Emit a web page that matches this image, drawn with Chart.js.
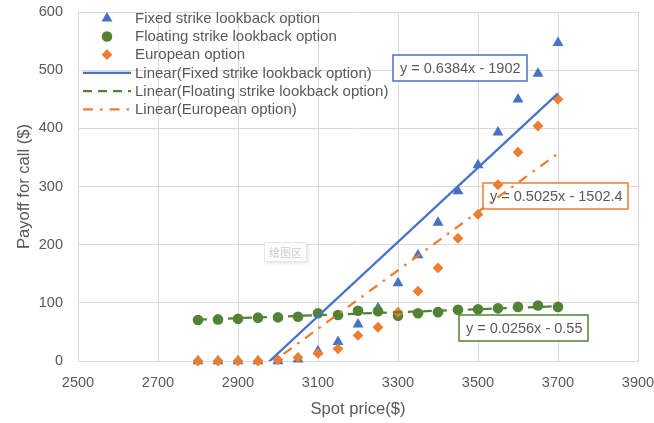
<!DOCTYPE html>
<html>
<head>
<meta charset="utf-8">
<script src="https://cdn.jsdelivr.net/npm/chart.js@4.4.1/dist/chart.umd.min.js"></script>
<style>
  html, body { margin: 0; padding: 0; background: #ffffff; }
  #wrap { width: 654px; height: 423px; }
</style>
</head>
<body>
<div id="wrap"><canvas id="chart" width="654" height="423"></canvas></div>
<script>
// Spot prices (x) and call payoffs (y) for each option type
const spotPrices = [2800, 2850, 2900, 2950, 3000, 3050, 3100, 3150, 3200, 3250,
                    3300, 3350, 3400, 3450, 3500, 3550, 3600, 3650, 3700];
const fixedStrike = [0, 0, 0, 0, 0, 3, 17, 33, 63, 91,
                     134, 182, 238, 292, 337, 393, 450, 494, 547];
const floatingStrike = [70.5, 71.5, 72.5, 74.5, 75, 76, 82, 79, 86.5, 85.5,
                        78, 82, 84, 88, 89, 90.5, 93, 95.5, 93];
const european = [0, 0, 0, 0, 2, 6, 13, 21, 44, 58,
                  84, 120, 160, 211, 252, 303, 359, 404, 450];

const seriesNames = ['Fixed strike lookback option',
                     'Floating strike lookback option',
                     'European option'];

// Linear trend lines: y = slope * x + intercept
const trendSlopes = [0.6384, 0.0256, 0.5025];
const trendIntercepts = [-1902, -0.55, -1502.4];

// Axis ranges and tick steps
const xAxisRange = [2500, 3900];
const xTickStep = 200;
const yAxisRange = [0, 600];
const yTickStep = 100;

const xTitle = 'Spot price($)';
const yTitle = 'Payoff for call ($)';
const plotAreaTag = '绘图区';

const BLUE = '#4472C4';
const GREEN = '#548235';
const ORANGE = '#ED7D31';
const TEXT = '#595959';
const GRID = '#D9D9D9';
const FONT = "'Liberation Sans', Arial, sans-serif";

const seriesColors = [BLUE, GREEN, ORANGE];
const seriesValues = [fixedStrike, floatingStrike, european];
const markerStyles = [
  { pointStyle: 'triangle', radius: 6.3 },
  { pointStyle: 'circle', radius: 5.3 },
  { pointStyle: 'rectRot', radius: 5.4 }
];
const trendDashes = [[], [9, 6], [10, 7, 2.5, 7]];

const toPoints = (values) => values.map((v, i) => ({ x: spotPrices[i], y: v }));
const trendPoints = (k) => {
  const xs = [spotPrices[0], spotPrices[spotPrices.length - 1]];
  return xs.map(x => ({ x, y: trendSlopes[k] * x + trendIntercepts[k] }));
};
const trendText = (k) => {
  const b = trendIntercepts[k];
  return 'y = ' + trendSlopes[k] + 'x ' + (b < 0 ? '- ' : '+ ') + Math.abs(b);
};

const datasets = [];
seriesValues.forEach((vals, k) => {
  datasets.push({
    type: 'scatter',
    label: seriesNames[k],
    data: toPoints(vals),
    pointStyle: markerStyles[k].pointStyle,
    pointRadius: markerStyles[k].radius,
    pointBackgroundColor: seriesColors[k],
    pointBorderColor: seriesColors[k],
    pointBorderWidth: 0,
    showLine: false,
    clip: false,
    order: 3 - k
  });
});
seriesValues.forEach((vals, k) => {
  datasets.push({
    type: 'line',
    label: 'Linear(' + seriesNames[k] + ')',
    data: trendPoints(k),
    borderColor: seriesColors[k],
    borderWidth: 2.25,
    borderDash: trendDashes[k],
    pointRadius: 0,
    fill: false,
    tension: 0,
    clip: 0,
    order: 0
  });
});

// Legend drawn over the upper-left of the plot area
const overlayLegend = {
  id: 'overlayLegend',
  afterDatasetsDraw(chart) {
    const ctx = chart.ctx;
    const x0 = 83, x1 = 131, markX = 107, textX = 135;
    const rowTop = 18.3, rowGap = 18.2;
    ctx.save();
    ctx.font = '15px ' + FONT;
    ctx.textBaseline = 'middle';
    ctx.textAlign = 'left';
    chart.data.datasets.forEach((ds, i) => {
      const y = rowTop + i * rowGap;
      if (ds.type === 'scatter') {
        ctx.fillStyle = ds.pointBackgroundColor;
        ctx.strokeStyle = ds.pointBorderColor;
        Chart.helpers.drawPoint(ctx, {
          pointStyle: ds.pointStyle, radius: ds.pointRadius, rotation: 0, borderWidth: 0
        }, markX, y);
      } else {
        ctx.strokeStyle = ds.borderColor;
        ctx.lineWidth = ds.borderWidth;
        ctx.setLineDash(ds.borderDash);
        ctx.beginPath();
        ctx.moveTo(x0, y);
        ctx.lineTo(x1, y);
        ctx.stroke();
        ctx.setLineDash([]);
      }
      ctx.fillStyle = TEXT;
      ctx.fillText(ds.label, textX, y + 0.5);
    });
    ctx.restore();
  }
};

// Boxed trend equations and the plot-area tag, drawn under the series
const equationBoxes = [
  { series: 0, left: 393, top: 55, width: 134, height: 26 },
  { series: 1, left: 459, top: 315, width: 129, height: 26 },
  { series: 2, left: 483, top: 183, width: 145, height: 26 }
];
const annotations = {
  id: 'annotations',
  beforeDatasetsDraw(chart) {
    const ctx = chart.ctx;
    ctx.save();
    // faint plot-area tag
    ctx.shadowColor = 'rgba(0,0,0,0.08)';
    ctx.shadowOffsetX = 1.5;
    ctx.shadowOffsetY = 1.5;
    ctx.shadowBlur = 2;
    ctx.fillStyle = '#ffffff';
    ctx.fillRect(264, 242, 43, 20);
    ctx.shadowColor = 'transparent';
    ctx.strokeStyle = '#E6E6E6';
    ctx.lineWidth = 1;
    ctx.strokeRect(264.5, 242.5, 42, 19);
    ctx.fillStyle = '#CBCBCB';
    ctx.font = "11px 'Noto Sans CJK SC', sans-serif";
    ctx.textBaseline = 'middle';
    ctx.textAlign = 'center';
    ctx.fillText(plotAreaTag, 285.5, 252.5);

    ctx.font = '14.5px ' + FONT;
    ctx.textAlign = 'left';
    equationBoxes.forEach(b => {
      ctx.fillStyle = '#ffffff';
      ctx.fillRect(b.left, b.top, b.width, b.height);
      ctx.strokeStyle = seriesColors[b.series];
      ctx.lineWidth = 1.5;
      ctx.strokeRect(b.left, b.top, b.width, b.height);
      ctx.fillStyle = TEXT;
      ctx.fillText(trendText(b.series), b.left + 7, b.top + b.height / 2 + 0.5);
    });
    ctx.restore();
  }
};

new Chart(document.getElementById('chart'), {
  type: 'scatter',
  data: { datasets },
  options: {
    responsive: false,
    animation: false,
    devicePixelRatio: 1,
    layout: { padding: { left: 0, right: 16, top: 12, bottom: 0 } },
    plugins: {
      legend: { display: false },
      tooltip: { enabled: false }
    },
    scales: {
      x: {
        type: 'linear',
        min: xAxisRange[0],
        max: xAxisRange[1],
        afterFit(scale) {
          scale.height = 62;
          scale.paddingLeft = 0;
          scale.paddingRight = 0;
        },
        ticks: {
          stepSize: xTickStep,
          color: TEXT,
          font: { family: FONT, size: 14.5 },
          padding: 13,
          maxRotation: 0,
          callback: (v) => String(v)
        },
        grid: { color: GRID, lineWidth: 1, drawTicks: false },
        border: { color: GRID, width: 1 },
        title: {
          display: true,
          text: xTitle,
          color: TEXT,
          font: { family: FONT, size: 16.6 },
          padding: { top: 0, bottom: 4 }
        }
      },
      y: {
        type: 'linear',
        min: yAxisRange[0],
        max: yAxisRange[1],
        afterFit(scale) {
          scale.width = 78;
          scale.paddingTop = 0;
          scale.paddingBottom = 0;
        },
        ticks: {
          stepSize: yTickStep,
          color: TEXT,
          font: { family: FONT, size: 14.5 },
          padding: 15,
          callback: (v) => String(v)
        },
        grid: { color: GRID, lineWidth: 1, drawTicks: false },
        border: { color: GRID, width: 1 },
        title: {
          display: true,
          text: yTitle,
          color: TEXT,
          font: { family: FONT, size: 16.6 },
          padding: { top: 14, bottom: 0 }
        }
      }
    }
  },
  plugins: [annotations, overlayLegend]
});
</script>
</body>
</html>
